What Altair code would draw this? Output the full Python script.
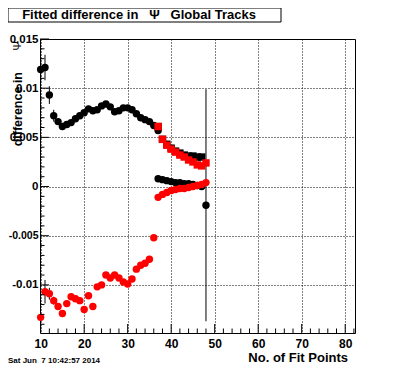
import altair as alt
import pandas as pd

# ---------------- data ----------------
black_up_x = [10, 11, 12, 13, 14, 15, 16, 17, 18, 19, 20, 21, 22, 23, 24, 25, 26, 27, 28, 29, 30, 31, 32, 33, 34, 35, 36, 37]
black_up_y = [0.0119, 0.0121, 0.0093, 0.0072, 0.0066, 0.0061, 0.0063, 0.0065, 0.0069, 0.0072, 0.0075, 0.0079, 0.0077, 0.0078, 0.0082, 0.0084, 0.0081, 0.0076, 0.0077, 0.0080, 0.0080, 0.0078, 0.0074, 0.0070, 0.0068, 0.0066, 0.0062, 0.0057]
black_up_err = [0.0012, 0.0013, 0.0009, 0.0006, 0.0003, 0.0002, 0.0002, 0.0002, 0.0002, 0.0002, 0.0002, 0.0002, 0.0002, 0.0002, 0.0002, 0.0002, 0.0002, 0.0002, 0.0002, 0.0002, 0.0002, 0.0002, 0.0002, 0.0002, 0.0002, 0.0002, 0.0002, 0.0002]

black_zero_x = [37, 38, 39, 40, 41, 42, 43, 44, 45, 46, 47, 48]
black_zero_y = [0.0008, 0.0007, 0.0006, 0.0005, 0.0004, 0.0004, 0.0003, 0.0003, 0.0002, 0.0001, 0.0000, -0.0019]
black_zero_err = [0.0001, 0.0001, 0.0001, 0.0001, 0.0001, 0.0001, 0.0001, 0.0001, 0.0001, 0.0001, 0.0001, 0.0118]

black_sq_x = [37, 38, 39, 40, 41, 42, 43, 44, 45, 46, 47]
black_sq_y = [0.0061, 0.0048, 0.0043, 0.0039, 0.0036, 0.0034, 0.0032, 0.0031, 0.0031, 0.0030, 0.0030]

red_low_x = [10, 11, 12, 13, 14, 15, 16, 17, 18, 19, 20, 21, 22, 23, 24, 25, 26, 27, 28, 29, 30, 31, 32, 33, 34, 35, 36]
red_low_y = [-0.0133, -0.0107, -0.0109, -0.0116, -0.0122, -0.0129, -0.0119, -0.0112, -0.0114, -0.0116, -0.0125, -0.0111, -0.0122, -0.0102, -0.0100, -0.0090, -0.0093, -0.0090, -0.0093, -0.0097, -0.0099, -0.0094, -0.0084, -0.0080, -0.0078, -0.0074, -0.0052]
red_low_err = [0.0004, 0.0012, 0.0006, 0.0004, 0.0003, 0.0003, 0.0003, 0.0003, 0.0003, 0.0003, 0.0003, 0.0003, 0.0003, 0.0003, 0.0003, 0.0003, 0.0003, 0.0003, 0.0003, 0.0003, 0.0003, 0.0003, 0.0003, 0.0003, 0.0003, 0.0003, 0.0003]

red_zero_x = [37, 38, 39, 40, 41, 42, 43, 44, 45, 46, 47, 48]
red_zero_y = [-0.0011, -0.0008, -0.0006, -0.0004, -0.0003, -0.0002, -0.0002, -0.0001, 0.0000, 0.0001, 0.0002, 0.0004]
red_zero_err = [0.0001, 0.0001, 0.0001, 0.0001, 0.0001, 0.0001, 0.0001, 0.0001, 0.0001, 0.0001, 0.0001, 0.0001]

red_sq_x = [37, 38, 39, 40, 41, 42, 43, 44, 45, 46, 47, 48]
red_sq_y = [0.0061, 0.0048, 0.0042, 0.0038, 0.0035, 0.0032, 0.0030, 0.0027, 0.0025, 0.0022, 0.0021, 0.0024]

x_major = [10, 20, 30, 40, 50, 60, 70, 80]
x_minor = [12, 14, 16, 18, 22, 24, 26, 28, 32, 34, 36, 38, 42, 44, 46, 48, 52, 54, 56, 58, 62, 64, 66, 68, 72, 74, 76, 78, 82]
y_major = [-0.01, -0.005, 0, 0.005, 0.01, 0.015]
y_minor = [-0.014, -0.013, -0.012, -0.011, -0.009, -0.008, -0.007, -0.006, -0.004, -0.003, -0.002, -0.001,
           0.001, 0.002, 0.003, 0.004, 0.006, 0.007, 0.008, 0.009, 0.011, 0.012, 0.013, 0.014]

NB = "\u00a0"
title_text = "Fitted difference in" + NB * 3 + "\u03a8" + NB * 3 + "Global Tracks"
y_title = "difference in"
y_title_sym = "\u03a8"
x_title = "No. of Fit Points"
date_text = "Sat Jun" + NB * 2 + "7 10:42:57 2014"

# ---------------- layout ----------------
W, H = 315, 294
FONT = "Liberation Sans"
xs = alt.Scale(domain=[9.85, 82.25], nice=False, zero=False)
ys = alt.Scale(domain=[-0.01489, 0.0150], nice=False, zero=False)


def frame(x, y, e=None):
    d = pd.DataFrame({"x": x, "y": y})
    if e is not None:
        d["lo"] = d["y"] - pd.Series(e)
        d["hi"] = d["y"] + pd.Series(e)
    return d


d_black = pd.concat([frame(black_up_x, black_up_y, black_up_err),
                     frame(black_zero_x, black_zero_y, black_zero_err)], ignore_index=True)
d_black_sq = frame(black_sq_x, black_sq_y)
d_red = pd.concat([frame(red_low_x, red_low_y, red_low_err),
                   frame(red_zero_x, red_zero_y, red_zero_err)], ignore_index=True)
d_red_sq = frame(red_sq_x, red_sq_y)

x_axis = alt.Axis(values=x_major, grid=True, gridDash=[1, 2], gridColor="black", gridOpacity=1,
                  ticks=False, domain=False, labelFont=FONT, labelFontWeight="bold", labelFontSize=12,
                  labelColor="black", labelPadding=5, labelFlush=False, labelOverlap=False,
                  labelBaseline="top", title=None)
y_axis = alt.Axis(values=y_major, grid=True, gridDash=[1, 2], gridColor="black", gridOpacity=1,
                  ticks=False, domain=False, labelFont=FONT, labelFontWeight="bold",
                  labelFontSize={"condition": {"test": "datum.value < -0.004 && datum.value > -0.006", "value": 10.5},
                                 "value": 11.5},
                  labelColor="black", labelPadding=2, labelFlush=False, labelOverlap=False,
                  labelExpr="'' + datum.value", title=None)

black_err = alt.Chart(d_black).mark_rule(color="black", strokeWidth=1).encode(
    x=alt.X("x:Q", scale=xs, axis=x_axis), y=alt.Y("lo:Q", scale=ys, axis=y_axis), y2="hi:Q")
black_pts = alt.Chart(d_black).mark_circle(color="black", size=55, opacity=1).encode(
    x=alt.X("x:Q", scale=xs), y=alt.Y("y:Q", scale=ys))
black_sq = alt.Chart(d_black_sq).mark_square(color="black", size=55, opacity=1).encode(
    x=alt.X("x:Q", scale=xs), y=alt.Y("y:Q", scale=ys))
red_err = alt.Chart(d_red).mark_rule(color="black", strokeWidth=1).encode(
    x=alt.X("x:Q", scale=xs), y=alt.Y("lo:Q", scale=ys), y2="hi:Q")
red_pts = alt.Chart(d_red).mark_circle(color="#ff0000", size=55, opacity=1).encode(
    x=alt.X("x:Q", scale=xs), y=alt.Y("y:Q", scale=ys))
red_sq = alt.Chart(d_red_sq).mark_square(color="#ff0000", size=55, opacity=1).encode(
    x=alt.X("x:Q", scale=xs), y=alt.Y("y:Q", scale=ys))

xt_major = alt.Chart(pd.DataFrame({"x": x_major})).mark_rule(color="black").encode(
    x=alt.X("x:Q", scale=xs), y=alt.value(H), y2=alt.value(H - 9))
xt_minor = alt.Chart(pd.DataFrame({"x": x_minor})).mark_rule(color="black").encode(
    x=alt.X("x:Q", scale=xs), y=alt.value(H), y2=alt.value(H - 4.5))
yt_major = alt.Chart(pd.DataFrame({"y": y_major})).mark_rule(color="black").encode(
    y=alt.Y("y:Q", scale=ys), x=alt.value(0), x2=alt.value(9))
yt_minor = alt.Chart(pd.DataFrame({"y": y_minor})).mark_rule(color="black").encode(
    y=alt.Y("y:Q", scale=ys), x=alt.value(0), x2=alt.value(4.5))

title_df = pd.DataFrame({"t": [title_text]})
title_box = alt.Chart(title_df).mark_rect(fill="white", stroke="black", strokeWidth=1).encode(
    x=alt.value(-32), x2=alt.value(241), y=alt.value(-31), y2=alt.value(-17))
title_txt = alt.Chart(title_df).mark_text(font=FONT, fontWeight="bold", fontSize=13, color="black",
                                          align="center", baseline="middle").encode(
    x=alt.value(99), y=alt.value(-24), text="t:N")

ytitle = alt.Chart(pd.DataFrame({"t": [y_title]})).mark_text(
    font=FONT, fontWeight="bold", fontSize=12.5, color="black", angle=270,
    align="right", baseline="middle").encode(x=alt.value(-22.5), y=alt.value(33), text="t:N")
ytitle_sym = alt.Chart(pd.DataFrame({"t": [y_title_sym]})).mark_text(
    font=FONT, fontSize=11, color="black", angle=270,
    align="center", baseline="middle").encode(x=alt.value(-21.7), y=alt.value(7), text="t:N")
xtitle = alt.Chart(pd.DataFrame({"t": [x_title]})).mark_text(
    font=FONT, fontWeight="bold", fontSize=13, color="black",
    align="right", baseline="alphabetic").encode(x=alt.value(308), y=alt.value(323), text="t:N")
date = alt.Chart(pd.DataFrame({"t": [date_text]})).mark_text(
    font=FONT, fontWeight="bold", fontSize=8, color="black",
    align="left", baseline="alphabetic").encode(x=alt.value(-32), y=alt.value(324), text="t:N")

chart = alt.layer(
    black_err, black_pts, black_sq, red_err, red_pts, red_sq,
    xt_major, xt_minor, yt_major, yt_minor,
    title_box, title_txt, ytitle, ytitle_sym, xtitle, date
).properties(
    width=W, height=H,
    padding={"left": 32, "top": 31, "right": 33, "bottom": 31},
    autosize=alt.AutoSizeParams(type="none"),
    background="white",
).configure_view(stroke="black", strokeWidth=1)

chart.save("out.html", embed_options={"renderer": "svg", "actions": False})
